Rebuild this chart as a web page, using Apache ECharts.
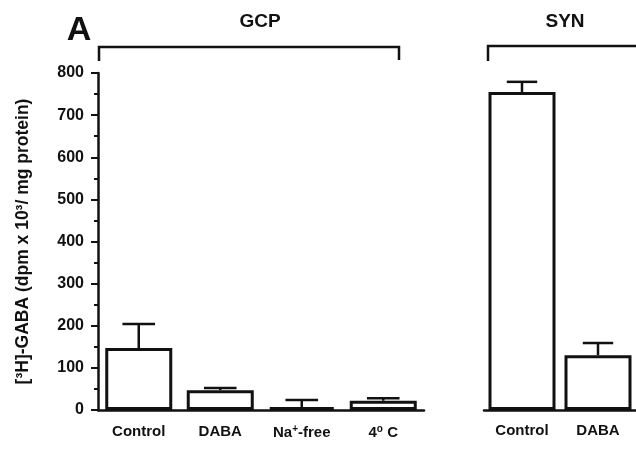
<!DOCTYPE html>
<html>
<head>
<meta charset="utf-8">
<script src="https://cdn.jsdelivr.net/npm/echarts@6/dist/echarts.min.js"></script>
<style>
  html, body { margin: 0; padding: 0; background: #fff; }
  #chart { width: 636px; height: 449px; }
</style>
</head>
<body>
<div id="chart"></div>
<script>
// GABA uptake, dpm x 10^3 / mg protein
const gcpCategories = ['Control', 'DABA', 'Na+-free', '4°C'];
const gcpValues = [147, 47, 7, 22];
const gcpErrors = [57, 5, 17, 6];

const synCategories = ['Control', 'DABA'];
const synValues = [755, 130];
const synErrors = [24, 29];

const yTicks = [0, 100, 200, 300, 400, 500, 600, 700, 800];

const FONT = '"Liberation Sans", Arial, Helvetica, sans-serif';
const INK = '#111';

const chart = echarts.init(document.getElementById('chart'), null, { renderer: 'canvas' });

function errorSeries(name, xIdx, yIdx, values, errors) {
  return {
    name: name,
    type: 'custom',
    xAxisIndex: xIdx,
    yAxisIndex: yIdx,
    z: 1,
    data: values.map((v, i) => [i, v, v + errors[i]]),
    renderItem: function (params, api) {
      const base = api.coord([api.value(0), api.value(1)]);
      const top = api.coord([api.value(0), api.value(2)]);
      const half = api.size([1, 0])[0] * 0.2;
      return {
        type: 'group',
        children: [
          { type: 'line', shape: { x1: base[0], y1: base[1], x2: top[0], y2: top[1] },
            style: { stroke: INK, lineWidth: 2.5 } },
          { type: 'line', shape: { x1: top[0] - half, y1: top[1], x2: top[0] + half, y2: top[1] },
            style: { stroke: INK, lineWidth: 2.5 } }
        ]
      };
    }
  };
}

const labelStyle = {
  color: INK, fontFamily: FONT, fontWeight: 'bold', fontSize: 15,
  rich: {
    sup: { fontSize: 10, fontWeight: 'bold', fontFamily: FONT, color: INK, verticalAlign: 'top', padding: [0, 0, 8, 0] },
    n: { fontSize: 15, fontWeight: 'bold', fontFamily: FONT, color: INK }
  },
  formatter: function (v) {
    if (v === 'Na+-free') return '{n|Na}{sup|+}{n|-free}';
    if (v === '4°C') return '{n|4}{sup|o}{n| C}';
    return '{n|' + v + '}';
  }
};

const option = {
  animation: false,
  backgroundColor: '#fff',
  grid: [
    { left: 98, top: 73, width: 326, height: 337 },
    { left: 484, top: 73, width: 158, height: 337 }
  ],
  xAxis: [
    {
      type: 'category', gridIndex: 0, data: gcpCategories,
      axisLine: { lineStyle: { color: INK, width: 2.5 } },
      axisTick: { show: false },
      axisLabel: Object.assign({ margin: 14, interval: 0 }, labelStyle)
    },
    {
      type: 'category', gridIndex: 1, data: synCategories,
      axisLine: { lineStyle: { color: INK, width: 2.5 } },
      axisTick: { show: false },
      axisLabel: Object.assign({ margin: 13, interval: 0 }, labelStyle)
    }
  ],
  yAxis: [
    {
      type: 'value', gridIndex: 0, min: 0, max: 800, interval: 100,
      name: '[\u00B3H]-GABA (dpm x 10\u00B3/ mg protein)',
      nameLocation: 'middle', nameGap: 66,
      nameTextStyle: { color: INK, fontFamily: FONT, fontWeight: 'bold', fontSize: 17.5 },
      axisLine: { show: true, lineStyle: { color: INK, width: 2.5 } },
      axisTick: { show: true, inside: false, length: 7, lineStyle: { color: INK, width: 2 } },
      minorTick: { show: true, splitNumber: 2, length: 4, lineStyle: { color: INK, width: 2 } },
      splitLine: { show: false },
      axisLabel: {
        color: INK, fontFamily: FONT, fontWeight: 'bold', fontSize: 16, margin: 14,
        formatter: function (v) { return yTicks.indexOf(v) >= 0 ? String(v) : ''; }
      }
    },
    {
      type: 'value', gridIndex: 1, min: 0, max: 800, interval: 100,
      show: false
    }
  ],
  series: [
    {
      name: 'GCP', type: 'bar', xAxisIndex: 0, yAxisIndex: 0,
      data: gcpValues, barWidth: 67, z: 2,
      itemStyle: { color: '#fff', borderColor: INK, borderWidth: 3 }
    },
    errorSeries('GCP error', 0, 0, gcpValues, gcpErrors),
    {
      name: 'SYN', type: 'bar', xAxisIndex: 1, yAxisIndex: 1,
      data: synValues, barWidth: 67, z: 2,
      itemStyle: { color: '#fff', borderColor: INK, borderWidth: 3 }
    },
    errorSeries('SYN error', 1, 1, synValues, synErrors)
  ],
  graphic: [
    { type: 'text', x: 79, y: 31,
      style: { text: 'A', fill: INK, font: 'bold 34px ' + FONT, textAlign: 'center', textVerticalAlign: 'middle' } },
    { type: 'text', x: 260, y: 22,
      style: { text: 'GCP', fill: INK, font: 'bold 19px ' + FONT, textAlign: 'center', textVerticalAlign: 'middle' } },
    { type: 'text', x: 565, y: 22,
      style: { text: 'SYN', fill: INK, font: 'bold 19px ' + FONT, textAlign: 'center', textVerticalAlign: 'middle' } },
    { type: 'polyline', shape: { points: [[99, 61], [99, 47], [399, 47], [399, 60]] },
      style: { stroke: INK, lineWidth: 2.5, fill: null } },
    { type: 'polyline', shape: { points: [[488, 61], [488, 46], [640, 46]] },
      style: { stroke: INK, lineWidth: 2.5, fill: null } }
  ]
};

chart.setOption(option);
</script>
</body>
</html>
